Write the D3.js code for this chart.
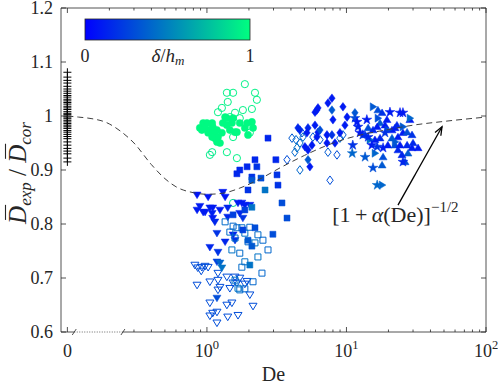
<!DOCTYPE html>
<html>
<head>
<meta charset="utf-8">
<script src="https://cdn.jsdelivr.net/npm/d3@7"></script>
<style>
  body { margin: 0; background: #fff; }
  text { font-family: "Liberation Serif", "Times New Roman", serif; fill: #262626; white-space: pre; }
</style>
</head>
<body>
<div id="chart"></div>
<script>
// ---- data: [De, Dexp/Dcor, delta/h_m] ----
var plusVals = [1.081, 1.072, 1.066, 1.061, 1.055, 1.05, 1.046, 1.042, 1.038, 1.035, 1.031, 1.028,
  1.025, 1.022, 1.018, 1.015, 1.012, 1.008, 1.005, 1.003, 1.0, 0.998, 0.995, 0.992, 0.989, 0.986,
  0.983, 0.98, 0.977, 0.973, 0.97, 0.966, 0.962, 0.958, 0.952, 0.946, 0.94, 0.935, 0.93, 0.922, 0.915];

var circOpen = [[1.87,1.059,0.95],[1.39,1.043,0.95],[1.54,1.043,0.95],[2.21,1.043,0.95],[2.28,1.030,0.95],
  [1.41,1.026,0.95],[1.28,1.015,0.95],[1.81,1.011,0.95],[2.10,1.013,0.95],[1.59,1.006,0.95],[1.46,0.998,0.95],
  [1.72,0.996,0.95],[2.03,0.969,0.95],[1.54,0.961,0.95],[1.09,0.933,0.92],[1.05,0.928,0.92],[1.39,0.933,0.95],
  [1.64,0.922,0.95],[1.54,0.839,0.85],[1.20,1.007,0.95]];

var circFilled = [[0.89,0.978,0.98],[0.94,0.987,0.98],[1.0,0.987,0.98],[1.09,0.987,0.98],[1.10,0.980,0.98],
  [1.18,0.974,0.98],[1.14,0.969,0.98],[1.20,0.961,0.98],[1.18,0.952,0.98],[1.24,0.950,0.98],[1.05,0.974,0.98],
  [0.97,0.980,0.98],[1.30,0.987,0.98],[1.39,0.983,0.98],[1.51,0.987,0.98],[1.54,0.996,0.98],[1.39,0.996,0.98],
  [1.46,0.974,0.98],[1.59,0.970,0.98],[1.72,0.987,0.98],[1.87,0.978,0.98],[2.10,0.989,0.98],[1.28,0.969,0.98],
  [1.14,0.959,0.98],[1.10,0.970,0.98],[1.02,0.969,0.98],[1.35,0.998,0.98],[1.94,0.987,0.98],[2.14,0.978,0.98],
  [1.97,0.965,0.98],[1.64,0.970,0.98],[1.09,0.961,0.98],[0.92,0.974,0.98]];

var downFilled = [[0.85,0.854,0.08],[1.02,0.850,0.08],[1.30,0.859,0.1],[1.35,0.850,0.08],[0.85,0.826,0.1],
  [0.94,0.822,0.1],[1.05,0.830,0.12],[1.10,0.830,0.1],[1.09,0.820,0.12],[1.10,0.811,0.1],[1.14,0.804,0.15],
  [1.41,0.830,0.15],[1.41,0.813,0.15],[1.67,0.839,0.1],[1.78,0.839,0.1],[1.87,0.835,0.1],[2.03,0.835,0.12],
  [1.72,0.820,0.15],[1.81,0.811,0.2],[1.18,0.783,0.2],[1.35,0.767,0.15],[1.05,0.757,0.15],[1.20,0.748,0.2],
  [1.54,0.780,0.15],[1.59,0.770,0.2],[1.18,0.730,0.25],[1.24,0.728,0.4],[1.28,0.719,0.45],[1.18,0.663,0.3],
  [0.97,0.822,0.1],[1.24,0.826,0.1],[0.89,0.833,0.1]];

var downOpen = [[0.82,0.724,0.3],[0.86,0.719,0.3],[0.92,0.720,0.3],[0.97,0.722,0.3],[1.02,0.720,0.3],
  [0.91,0.713,0.3],[0.85,0.687,0.3],[1.05,0.693,0.3],[1.20,0.709,0.3],[1.20,0.696,0.3],[1.24,0.683,0.3],
  [1.39,0.702,0.3],[1.46,0.681,0.3],[1.59,0.702,0.3],[1.72,0.700,0.3],[1.94,0.694,0.3],[1.64,0.691,0.3],
  [1.87,0.689,0.3],[2.03,0.669,0.3],[2.14,0.648,0.3],[1.05,0.654,0.3],[1.10,0.635,0.3],[1.05,0.630,0.3],
  [1.18,0.637,0.3],[1.39,0.650,0.3],[1.51,0.654,0.3],[1.41,0.628,0.3],[1.67,0.631,0.3],[1.18,0.617,0.3],
  [1.20,0.678,0.3],[1.54,0.691,0.3]];

var sqFilled = [[2.74,0.959,0.15],[2.21,0.919,0.15],[3.12,0.919,0.15],[1.72,0.900,0.15],[1.64,0.893,0.15],
  [1.94,0.906,0.15],[2.28,0.906,0.2],[2.10,0.887,0.2],[2.10,0.881,0.35],[2.44,0.885,0.3],[3.18,0.891,0.2],
  [3.23,0.872,0.2],[1.97,0.863,0.2],[2.61,0.863,0.45],[3.45,0.839,0.3],[2.10,0.831,0.45],[3.75,0.811,0.3],
  [2.97,0.781,0.3],[1.81,0.789,0.25],[1.97,0.770,0.35],[2.10,0.759,0.35],[2.03,0.724,0.45],[1.54,0.817,0.25],
  [1.87,0.826,0.25],[2.21,0.793,0.3]];

var sqOpen = [[1.35,0.804,0.42],[1.54,0.796,0.4],[1.46,0.785,0.42],[1.64,0.793,0.4],[1.78,0.793,0.42],
  [2.03,0.794,0.4],[1.87,0.783,0.45],[1.59,0.774,0.42],[1.97,0.767,0.4],[2.32,0.780,0.42],[2.52,0.770,0.4],
  [2.21,0.765,0.45],[1.51,0.752,0.45],[1.72,0.746,0.42],[2.32,0.739,0.45],[2.74,0.752,0.4],[1.87,0.730,0.45],
  [1.78,0.720,0.42],[2.48,0.709,0.4],[2.14,0.693,0.4],[1.59,0.696,0.45],[1.72,0.678,0.42],[1.87,0.680,0.4],
  [1.67,0.681,0.45]];

var diaFilled = [[7.87,1.033,0.1],[7.37,1.024,0.1],[6.14,1.011,0.1],[5.95,1.007,0.1],[6.25,1.015,0.1],
  [9.44,1.017,0.1],[7.87,1.011,0.35],[8.00,0.993,0.1],[10.1,0.998,0.1],[9.75,0.983,0.1],[4.49,0.978,0.15],
  [4.64,0.974,0.15],[5.30,0.978,0.15],[5.21,0.969,0.1],[6.25,0.970,0.1],[7.25,0.965,0.1],[7.87,0.965,0.2],
  [6.14,0.961,0.1],[5.04,0.943,0.1],[5.30,0.937,0.1],[5.66,0.946,0.1],[7.25,0.950,0.1],[8.27,0.950,0.1],
  [5.47,0.906,0.1],[5.30,0.919,0.35],[6.46,0.974,0.3],[11.5,1.006,0.35],[8.98,0.969,0.1],[5.95,0.983,0.1]];

var diaOpen = [[4.07,0.959,0.35],[4.35,0.956,0.4],[4.80,0.969,0.35],[4.88,0.961,0.4],[5.75,0.961,0.35],
  [4.64,0.950,0.4],[4.42,0.941,0.45],[4.27,0.933,0.4],[3.75,0.919,0.3],[4.64,0.900,0.4],[7.37,0.933,0.35],
  [8.55,0.928,0.3],[7.62,0.881,0.3],[9.44,0.965,0.35],[8.98,0.959,0.4],[6.46,0.956,0.35]];

var upFilled = [[16.8,1.011,0.3],[18.0,1.006,0.2],[19.5,0.993,0.1],[17.4,0.987,0.35],[16.6,0.980,0.1],
  [14.3,0.978,0.3],[15.5,0.974,0.15],[22.3,0.978,0.1],[25.4,0.969,0.1],[27.2,0.970,0.3],[29.5,0.965,0.2],
  [23.4,0.961,0.1],[21.2,0.959,0.35],[17.4,0.959,0.15],[19.8,0.946,0.1],[22.3,0.946,0.3],[24.2,0.946,0.1],
  [27.2,0.946,0.15],[29.5,0.941,0.1],[32.6,0.941,0.1],[30.0,0.950,0.15],[27.6,0.931,0.35],[18.3,0.924,0.3],
  [18.0,0.909,0.35],[25.0,0.928,0.15],[26.3,0.915,0.3],[23.0,0.983,0.15],[13.6,0.965,0.2],[28.5,0.993,0.1],
  [18.9,0.983,0.1],[21.2,0.974,0.1],[16.0,0.956,0.1],[23.4,0.937,0.15]];

var rightFilled = [[15.5,1.017,0.35],[16.8,0.996,0.3],[28.5,0.996,0.4],[25.4,0.980,0.35],[16.0,0.931,0.4],
  [18.0,0.872,0.4],[22.3,0.952,0.35],[19.8,0.974,0.3],[14.7,0.956,0.45]];

var starFilled = [[11.5,0.996,0.3],[14.0,0.993,0.1],[20.5,1.007,0.1],[24.2,1.006,0.1],[25.4,1.006,0.1],
  [12.1,0.980,0.15],[13.1,0.965,0.2],[15.2,0.946,0.1],[11.1,0.946,0.2],[11.0,0.931,0.4],[13.6,0.924,0.35],
  [15.5,0.904,0.3],[25.4,0.915,0.15],[16.6,0.872,0.4],[12.5,0.969,0.1],[18.3,0.941,0.1],[16.6,0.943,0.2],
  [14.3,0.961,0.15],[11.9,0.989,0.1],[18.9,0.969,0.2]];

// dashed model curve [1 + alpha(De)]^(-1/2)
var curveDe  = [0.1, 0.12, 0.15, 0.19, 0.24, 0.3, 0.4, 0.5, 0.6, 0.8, 1.0, 1.3, 1.7, 2.3, 3.4, 5, 7, 10, 15, 20, 30, 50, 100];
var curveVal = [1.0, 0.998, 0.995, 0.988, 0.972, 0.95, 0.91, 0.884, 0.869, 0.858, 0.855, 0.857, 0.866, 0.881,
  0.905, 0.927, 0.944, 0.958, 0.969, 0.975, 0.983, 0.99, 0.998];

var yTicks = [0.6, 0.7, 0.8, 0.9, 1.0, 1.1, 1.2];
var yTickLabels = ["0.6", "0.7", "0.8", "0.9", "1", "1.1", "1.2"];
var xMajor = [0.1, 1, 10, 100];
var xMajorBase = ["0", "10", "10", "10"];
var xMajorExp = ["", "0", "1", "2"];

// ---- layout ----
var width = 498, height = 384;
var plotL = 61, plotR = 486, plotT = 8, plotB = 332;
var axisColor = "#262626";

var svg = d3.select("#chart").append("svg")
  .attr("width", width).attr("height", height)
  .attr("font-family", "Liberation Serif, Times New Roman, serif");

var xScale = d3.scaleLog().domain([0.09, 100]).range([plotL, plotR]);
var yScale = d3.scaleLinear().domain([0.6, 1.2]).range([plotB, plotT]);
var zeroPos = 0.1; // De = 0 is drawn at the 10^-1 slot

function winter(t) {
  return d3.rgb(0, Math.round(255 * t), Math.round(255 * (1 - t / 2))).formatHex();
}

// ---- markers ----
var shapes = {
  circle: "M3.6,0A3.6,3.6 0 1,1 -3.6,0A3.6,3.6 0 1,1 3.6,0Z",
  square: "M-3,-3H3V3H-3Z",
  diamond: "M0,-4.3L3.2,0L0,4.3L-3.2,0Z",
  down: "M-4,-2.8H4L0,3.8Z",
  up: "M-4,2.8H4L0,-3.8Z",
  right: "M-2.8,-4V4L3.8,0Z",
  star: d3.symbol(d3.symbolStar, 30)(),
  plus: "M-4,0H4M0,-4V4"
};

var series = [
  {data: circOpen, shape: "circle", filled: false},
  {data: circFilled, shape: "circle", filled: true},
  {data: downOpen, shape: "down", filled: false},
  {data: downFilled, shape: "down", filled: true},
  {data: sqOpen, shape: "square", filled: false},
  {data: sqFilled, shape: "square", filled: true},
  {data: diaOpen, shape: "diamond", filled: false},
  {data: diaFilled, shape: "diamond", filled: true},
  {data: upFilled, shape: "up", filled: true},
  {data: rightFilled, shape: "right", filled: true},
  {data: starFilled, shape: "star", filled: true}
];

var pts = svg.append("g").attr("class", "points");

// zero-De reference points
pts.selectAll("path.plus").data(plusVals).enter()
  .append("path")
  .attr("class", "plus")
  .attr("d", shapes.plus)
  .attr("transform", function(d) {
    return "translate(" + xScale(zeroPos) + "," + yScale(d) + ")";
  })
  .attr("fill", "none")
  .attr("stroke", "#000")
  .attr("stroke-width", 1);

series.forEach(function(s) {
  pts.append("g").selectAll("path").data(s.data).enter()
    .append("path")
    .attr("d", shapes[s.shape])
    .attr("transform", function(d) {
      return "translate(" + xScale(d[0]) + "," + yScale(d[1]) + ")";
    })
    .attr("fill", function(d) { return s.filled ? winter(d[2]) : "none"; })
    .attr("stroke", function(d) { return winter(d[2]); })
    .attr("stroke-width", s.filled ? 0.5 : 1);
});

// dashed curve
var curvePts = curveDe.map(function(d, i) { return [d, curveVal[i]]; });
svg.append("path")
  .datum(curvePts)
  .attr("d", d3.line()
    .x(function(d) { return xScale(d[0]); })
    .y(function(d) { return yScale(d[1]); })
    .curve(d3.curveMonotoneX))
  .attr("fill", "none")
  .attr("stroke", "#404040")
  .attr("stroke-width", 1)
  .attr("stroke-dasharray", "6,4");

// ---- axes box ----
var ax = svg.append("g").attr("stroke", axisColor).attr("stroke-width", 0.8).attr("fill", "none");
ax.append("line").attr("x1", plotL).attr("x2", plotL).attr("y1", plotT).attr("y2", plotB);
ax.append("line").attr("x1", plotR).attr("x2", plotR).attr("y1", plotT).attr("y2", plotB);
ax.append("line").attr("x1", plotL).attr("x2", plotR).attr("y1", plotT).attr("y2", plotT);
// bottom axis with break
var b1 = xScale(0.112), b2 = xScale(0.25);
ax.append("line").attr("x1", plotL).attr("x2", b1).attr("y1", plotB).attr("y2", plotB);
ax.append("line").attr("x1", b2).attr("x2", plotR).attr("y1", plotB).attr("y2", plotB);
ax.append("line").attr("x1", b1).attr("x2", b2).attr("y1", plotB).attr("y2", plotB)
  .attr("stroke-dasharray", "1,1.5").attr("stroke-width", 0.7);
[b1, b2].forEach(function(bx) {
  ax.append("line").attr("x1", bx - 2).attr("x2", bx + 2)
    .attr("y1", plotB + 3).attr("y2", plotB - 3);
});

// ticks
var minorTop = [], minorBot = [];
[0.1, 1, 10].forEach(function(dec) {
  for (var k = 2; k <= 9; k++) {
    minorTop.push(k * dec);
    if (k * dec >= 0.3) minorBot.push(k * dec);
  }
});
xMajor.forEach(function(v) {
  var x = xScale(v);
  ax.append("line").attr("x1", x).attr("x2", x).attr("y1", plotB).attr("y2", plotB - 5);
  ax.append("line").attr("x1", x).attr("x2", x).attr("y1", plotT).attr("y2", plotT + 5);
});
minorBot.forEach(function(v) {
  var x = xScale(v);
  ax.append("line").attr("x1", x).attr("x2", x).attr("y1", plotB).attr("y2", plotB - 2.5);
});
minorTop.forEach(function(v) {
  var x = xScale(v);
  ax.append("line").attr("x1", x).attr("x2", x).attr("y1", plotT).attr("y2", plotT + 2.5);
});
yTicks.forEach(function(v) {
  var y = yScale(v);
  ax.append("line").attr("x1", plotL).attr("x2", plotL + 5).attr("y1", y).attr("y2", y);
  ax.append("line").attr("x1", plotR).attr("x2", plotR - 5).attr("y1", y).attr("y2", y);
});

// tick labels
svg.append("g").selectAll("text").data(yTicks).enter()
  .append("text")
  .attr("x", plotL - 8)
  .attr("y", function(d) { return yScale(d) + 6; })
  .attr("text-anchor", "end")
  .attr("font-size", 18)
  .text(function(d, i) { return yTickLabels[i]; });

xMajor.forEach(function(v, i) {
  var t = svg.append("text")
    .attr("x", xScale(v))
    .attr("y", 357)
    .attr("text-anchor", "middle")
    .attr("font-size", 18);
  t.append("tspan").text(xMajorBase[i]);
  if (xMajorExp[i]) {
    t.append("tspan").attr("font-size", 12.5).attr("dy", -8).text(xMajorExp[i]);
  }
});

// x label
svg.append("text")
  .attr("x", (plotL + plotR) / 2)
  .attr("y", 381)
  .attr("text-anchor", "middle")
  .attr("font-size", 20)
  .text("De");

// y label (rotated) with bars over D
var yl = svg.append("g").attr("transform", "translate(26,173) rotate(-90)");
var ylt = yl.append("text").attr("text-anchor", "middle").attr("font-size", 25).attr("font-style", "italic");
ylt.append("tspan").text("D");
ylt.append("tspan").attr("font-size", 17).attr("dy", 5).text("exp");
ylt.append("tspan").attr("font-style", "normal").attr("dy", -5).text(" / ");
ylt.append("tspan").text("D");
ylt.append("tspan").attr("font-size", 17).attr("dy", 5).text("cor");
var ylNode = ylt.node();
[0, 7].forEach(function(ci) {
  var e = ylNode.getExtentOfChar(ci);
  yl.append("line")
    .attr("x1", e.x + 4).attr("x2", e.x + e.width + 1)
    .attr("y1", -20.5).attr("y2", -20.5)
    .attr("stroke", "#262626").attr("stroke-width", 1.1);
});

// ---- colorbar ----
var grad = svg.append("defs").append("linearGradient").attr("id", "winter")
  .attr("x1", "0%").attr("x2", "100%").attr("y1", "0%").attr("y2", "0%");
[0, 0.5, 1].forEach(function(t) {
  grad.append("stop").attr("offset", (t * 100) + "%").attr("stop-color", winter(t));
});
var cbX = d3.scaleLinear().domain([0, 1]).range([85, 250]);
svg.append("rect")
  .attr("x", cbX(0)).attr("y", 19)
  .attr("width", cbX(1) - cbX(0)).attr("height", 21)
  .attr("fill", "url(#winter)")
  .attr("stroke", "#262626").attr("stroke-width", 0.8);
[0, 1].forEach(function(v) {
  svg.append("text").attr("x", cbX(v)).attr("y", 62)
    .attr("text-anchor", "middle").attr("font-size", 18).text(v);
});
var cbl = svg.append("text").attr("x", 168).attr("y", 62)
  .attr("text-anchor", "middle").attr("font-size", 19).attr("font-style", "italic");
cbl.append("tspan").text("δ");
cbl.append("tspan").attr("font-style", "normal").text("/");
cbl.append("tspan").text("h");
cbl.append("tspan").attr("font-size", 13).attr("dy", 3).text("m");

// ---- annotation ----
var arrowTail = [23.4, 0.835], arrowTip = [48.4, 0.980];
var ax1 = xScale(arrowTail[0]), ay1 = yScale(arrowTail[1]);
var ax2 = xScale(arrowTip[0]), ay2 = yScale(arrowTip[1]);
var ang = Math.atan2(ay2 - ay1, ax2 - ax1);
var ah = 9, spread = 0.38;
var ann = svg.append("g").attr("stroke", "#000").attr("stroke-width", 1.3).attr("fill", "none");
ann.append("line").attr("x1", ax1).attr("y1", ay1).attr("x2", ax2).attr("y2", ay2);
ann.append("path").attr("d",
  "M" + (ax2 - ah * Math.cos(ang - spread)) + "," + (ay2 - ah * Math.sin(ang - spread)) +
  "L" + ax2 + "," + ay2 +
  "L" + (ax2 - ah * Math.cos(ang + spread)) + "," + (ay2 - ah * Math.sin(ang + spread)));

var lab = svg.append("text")
  .attr("x", xScale(7.9)).attr("y", yScale(0.804))
  .attr("font-size", 22);
lab.append("tspan").text("[1\u2009+\u2009");
lab.append("tspan").attr("font-style", "italic").text("α");
lab.append("tspan").text("(De)]");
lab.append("tspan").attr("font-size", 15).attr("dy", -10).text("−1/2");
</script>
</body>
</html>
